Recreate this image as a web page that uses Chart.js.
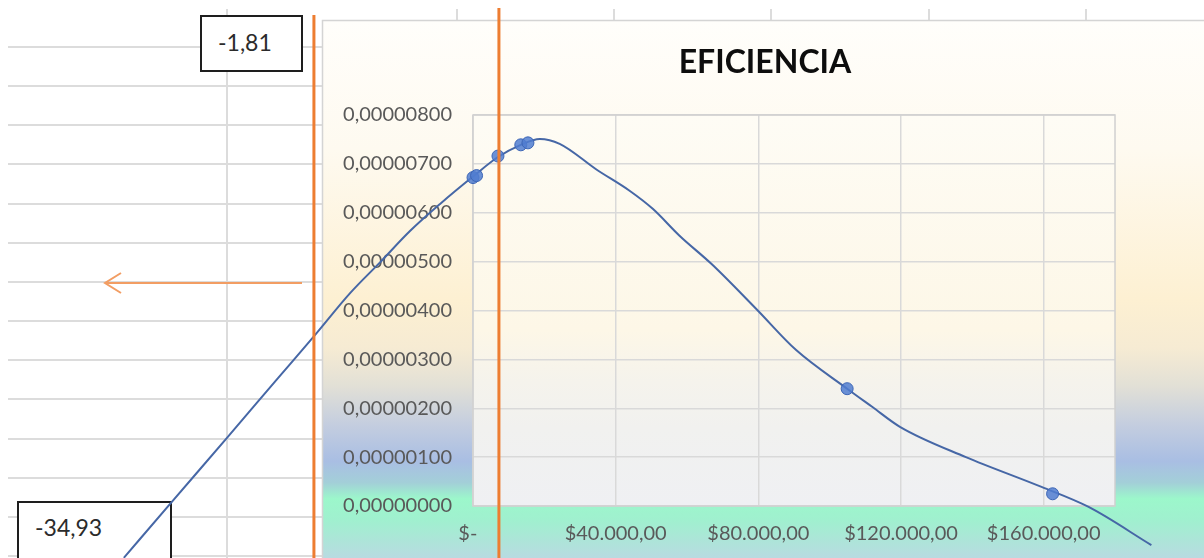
<!DOCTYPE html>
<html>
<head>
<meta charset="utf-8">
<title>EFICIENCIA</title>
<script src="https://cdn.jsdelivr.net/npm/chart.js@4.4.1/dist/chart.umd.min.js"></script>
<style>
  html, body { margin: 0; padding: 0; background: #fff; }
  #wrap { position: relative; width: 1204px; height: 558px; overflow: hidden; }
  #sheet { position: absolute; left: 0; top: 0; }
  .box {
    position: absolute; box-sizing: border-box; background: #fff;
    border: 2px solid #1e1e1e; color: #2b2b2b;
    font: 23px Lato, sans-serif; line-height: 1.2; padding-left: 16px;
  }
  #chart { position: absolute; left: 0; top: 0; z-index: 1; }
  #title {
    position: absolute; left: 565px; top: 42px; width: 400px; z-index: 2;
    text-align: center; font: bold 32px Lato, sans-serif; line-height: 1.2; color: #0d0d0d;
  }
</style>
</head>
<body>
<div id="wrap">
  <canvas id="sheet" width="1204" height="558"></canvas>
  <div class="box" style="left:200px;top:15px;width:103px;height:57px;padding-top:12px;">-1,81</div>
  <div class="box" style="left:17px;top:501px;width:155px;height:80px;padding-top:11px;">-34,93</div>
  <canvas id="chart" width="1204" height="558"></canvas>
  <div id="title">EFICIENCIA</div>
</div>
<script>
// measured points (ingreso vs eficiencia)
const pointX = [0, 1000, 7000, 13400, 15400, 104900, 162500];
const pointY = [6.72e-6, 6.76e-6, 7.16e-6, 7.39e-6, 7.43e-6, 2.40e-6, 0.25e-6];

// smoothed trend, runs past both ends of the axis
const curveX = [-97900, -84500, -68800, -55100, -44500, -34400, -26000, -17600, -9230, 0,
  7000, 13400, 18740, 24300, 34700, 43900, 50400, 57900, 66900, 79700, 90600,
  104900, 111900, 119700, 138200, 159400, 172600, 190200];
const curveY = [-1.06, 0.08, 1.41, 2.58, 3.48, 4.36, 4.99, 5.63, 6.18, 6.74,
  7.14, 7.39, 7.51, 7.41, 6.88, 6.45, 6.08, 5.53, 4.95, 4.01, 3.19,
  2.40, 2.03, 1.62, 1.00, 0.39, -0.02, -0.80].map(v => v * 1e-6);

const xTicks = [0, 40000, 80000, 120000, 160000];
const xMin = 0, xMax = 180000;
const yMin = 0, yMax = 8e-6, yStep = 1e-6;

// vertical guide lines (orange)
const guideX = [-44600, 7270];

// spreadsheet grid behind the chart
(function drawSheet() {
  const c = document.getElementById('sheet').getContext('2d');
  c.strokeStyle = '#dcdcdc';
  c.lineWidth = 2;
  for (let i = 0; i < 14; i++) {
    const y = Math.round(47 + i * 39.15);
    c.beginPath(); c.moveTo(8, y); c.lineTo(1204, y); c.stroke();
  }
  [227, 457, 614, 771, 929, 1086].forEach(x => {
    c.beginPath(); c.moveTo(x, 9); c.lineTo(x, 558); c.stroke();
  });
})();

function money(v) {
  if (v === 0) return '$-  ';
  const parts = v.toFixed(2).split('.');
  return '$' + parts[0].replace(/\B(?=(\d{3})+(?!\d))/g, '.') + ',' + parts[1];
}

const framePlugin = {
  id: 'frame',
  beforeDraw(chart) {
    const ctx = chart.ctx;
    const a = chart.chartArea;
    ctx.save();
    // chart object background
    const g = ctx.createLinearGradient(0, 20, 0, 558);
    g.addColorStop(0.00, '#fffefb');
    g.addColorStop(0.24, '#fefaf0');
    g.addColorStop(0.52, '#fdf0d2');
    g.addColorStop(0.61, '#f6ebd3');
    g.addColorStop(0.68, '#e2e0d6');
    g.addColorStop(0.75, '#c5cedf');
    g.addColorStop(0.82, '#a9bee3');
    g.addColorStop(0.86, '#a3cfd8');
    g.addColorStop(0.89, '#9cf7cb');
    g.addColorStop(0.93, '#a0f0cf');
    g.addColorStop(1.00, '#b8dbe1');
    ctx.fillStyle = g;
    ctx.fillRect(322, 20, 900, 540);
    ctx.strokeStyle = '#d4d4d4';
    ctx.lineWidth = 1.5;
    ctx.beginPath();
    ctx.moveTo(322.5, 560); ctx.lineTo(322.5, 20.5); ctx.lineTo(1204, 20.5);
    ctx.stroke();
    // plot area
    const p = ctx.createLinearGradient(0, a.top, 0, a.bottom);
    p.addColorStop(0.00, '#fefcf5');
    p.addColorStop(0.55, '#fdf7e7');
    p.addColorStop(0.68, '#f5f3ec');
    p.addColorStop(0.80, '#f1f1ef');
    p.addColorStop(1.00, '#eff0f3');
    ctx.fillStyle = p;
    ctx.fillRect(a.left, a.top, a.right - a.left, a.bottom - a.top);
    ctx.restore();
  },
  beforeDatasetsDraw(chart) {
    const ctx = chart.ctx;
    const a = chart.chartArea;
    ctx.save();
    ctx.strokeStyle = '#d0d0d0';
    ctx.lineWidth = 1.5;
    ctx.strokeRect(a.left, a.top, a.right - a.left, a.bottom - a.top);
    ctx.restore();
  },
  afterDraw(chart) {
    const ctx = chart.ctx;
    const xs = chart.scales.x;
    ctx.save();
    ctx.strokeStyle = '#ED7D31';
    ctx.lineWidth = 3;
    const tops = [15, 8];
    guideX.forEach((v, i) => {
      const x = xs.getPixelForValue(v);
      ctx.beginPath(); ctx.moveTo(x, tops[i]); ctx.lineTo(x, 558); ctx.stroke();
    });
    // arrow pointing left
    ctx.strokeStyle = '#F29D63';
    ctx.lineWidth = 2;
    ctx.beginPath();
    ctx.moveTo(302, 283); ctx.lineTo(105, 283);
    ctx.moveTo(121, 273); ctx.lineTo(105, 283); ctx.lineTo(121, 293);
    ctx.stroke();
    ctx.restore();
  }
};

const tickFont = { family: 'Lato', size: 20 };

new Chart(document.getElementById('chart'), {
  type: 'scatter',
  data: {
    datasets: [
      {
        label: 'Eficiencia',
        data: pointX.map((x, i) => ({ x: x, y: pointY[i] })),
        pointRadius: 6,
        backgroundColor: 'rgba(80,125,208,0.85)',
        borderColor: '#3d66b6',
        borderWidth: 1,
        order: 0
      },
      {
        label: 'Tendencia',
        data: curveX.map((x, i) => ({ x: x, y: curveY[i] })),
        showLine: true,
        pointRadius: 0,
        borderColor: '#4667a6',
        borderWidth: 2,
        cubicInterpolationMode: 'monotone',
        capBezierPoints: false,
        clip: false,
        order: 1
      }
    ]
  },
  options: {
    responsive: false,
    animation: false,
    layout: { padding: { top: 115, right: 89, left: 0, bottom: 0 } },
    plugins: { legend: { display: false }, tooltip: { enabled: false } },
    scales: {
      x: {
        type: 'linear',
        afterDataLimits: s => { s.min = xMin; s.max = xMax; },
        afterBuildTicks: s => { s.min = xMin; s.max = xMax; s.ticks = xTicks.map(v => ({ value: v })); },
        afterFit: s => { s.height = 52; },
        border: { display: false },
        grid: { color: '#d9d9d9', lineWidth: 1.5, drawTicks: false },
        ticks: { padding: 16, color: '#595959', font: tickFont, maxRotation: 0, autoSkip: false, callback: v => money(v) }
      },
      y: {
        min: yMin,
        max: yMax,
        afterFit: s => { s.width = 473; },
        border: { display: false },
        grid: { color: '#d9d9d9', lineWidth: 1.5, drawTicks: false },
        ticks: { stepSize: yStep, padding: 21, color: '#595959', font: tickFont,
          callback: v => v.toFixed(8).replace('.', ',') }
      }
    }
  },
  plugins: [framePlugin]
});
</script>
</body>
</html>
